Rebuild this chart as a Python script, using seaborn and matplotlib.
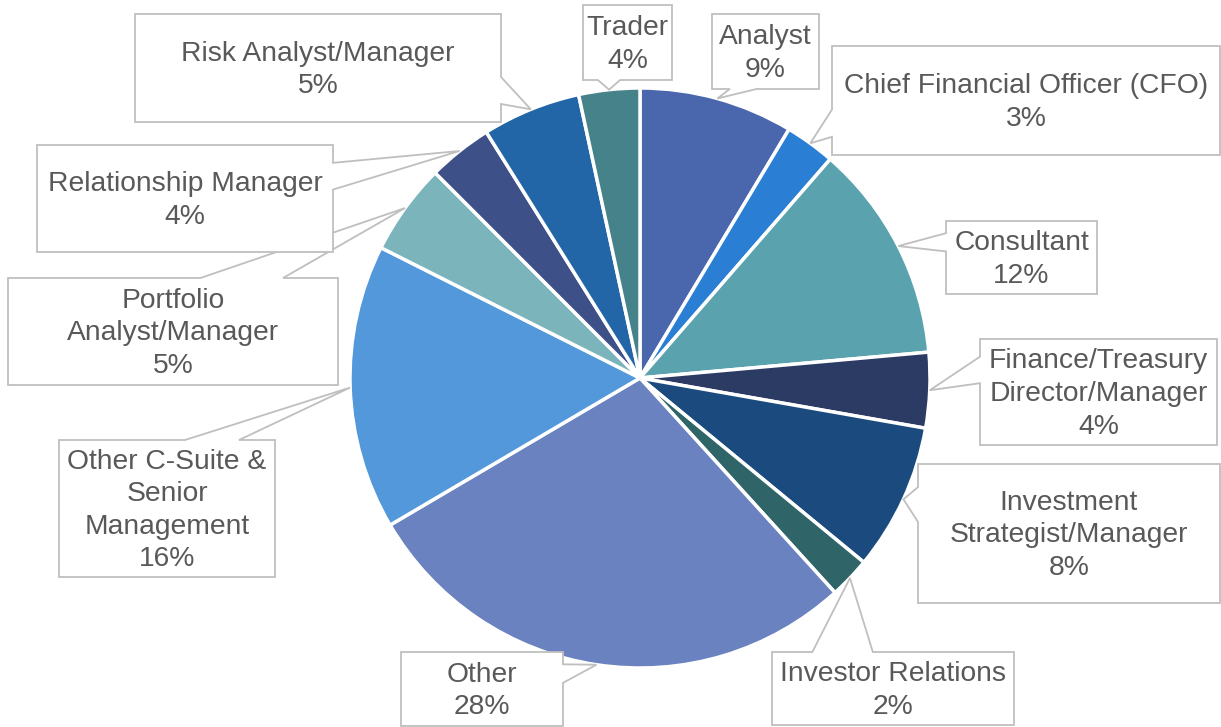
import matplotlib
matplotlib.use('Agg')  # no display available
import matplotlib.pyplot as plt
import seaborn as sns
import numpy as np
from matplotlib.patches import Polygon

# Slices in clockwise order starting from 12 o'clock
roles = [
    'Analyst',
    'Chief Financial Officer (CFO)',
    'Consultant',
    'Finance/Treasury\nDirector/Manager',
    'Investment\nStrategist/Manager',
    'Investor Relations',
    'Other',
    'Other C-Suite &\nSenior\nManagement',
    'Portfolio\nAnalyst/Manager',
    'Relationship Manager',
    'Risk Analyst/Manager',
    'Trader',
]
shares = [8.6, 2.8, 12.2, 4.2, 8.2, 2.3, 28.3, 15.9, 5.1, 3.6, 5.5, 3.4]
pct_labels = ['9%', '3%', '12%', '4%', '8%', '2%', '28%', '16%', '5%', '4%', '5%', '4%']
slice_colors = ['#4A66AC', '#2A7FD5', '#5AA2AE', '#2C3B64', '#1B4A7E', '#2F6468',
                '#6A82BF', '#5398DB', '#7CB4BC', '#3D5088', '#2266A8', '#468289']

# Callout boxes in picture pixels (x0, y0, x1, y1), y measured from top
label_boxes = [
    (712, 14, 819, 89),
    (832, 46, 1220, 155),
    (946, 221, 1097, 294),
    (980, 339, 1217, 445),
    (918, 464, 1220, 603),
    (772, 652, 1014, 725),
    (401, 652, 563, 726),
    (59, 440, 275, 577),
    (8, 278, 338, 385),
    (37, 145, 333, 252),
    (135, 14, 501, 122),
    (583, 5, 672, 80),
]

W, H = 1221, 727
PIE_CENTER = (640, H - 378)
PIE_RADIUS = 290
TEXT_COLOR = '#595959'
BOX_EDGE = '#BFBFBF'
TEXT_DROP = 2  # px, text sits a touch below the box centre


def callout_vertices(box, tip):
    """Rectangle with a wedge pointer, like an Excel data callout (image coords)"""
    x0, y0, x1, y1 = box
    w, h = x1 - x0, y1 - y0
    cx, cy = (x0 + x1) / 2, (y0 + y1) / 2
    dx, dy = tip[0] - cx, tip[1] - cy
    if abs(dx) / (w / 2) > abs(dy) / (h / 2):
        side = 'right' if dx > 0 else 'left'
        f1, f2 = (2 / 12, 5 / 12) if dy < 0 else (7 / 12, 10 / 12)
    else:
        side = 'bottom' if dy > 0 else 'top'
        f1, f2 = (2 / 12, 5 / 12) if dx < 0 else (7 / 12, 10 / 12)

    pts = [(x0, y0)]
    if side == 'top':
        pts += [(x0 + f1 * w, y0), tip, (x0 + f2 * w, y0)]
    pts += [(x1, y0)]
    if side == 'right':
        pts += [(x1, y0 + f1 * h), tip, (x1, y0 + f2 * h)]
    pts += [(x1, y1)]
    if side == 'bottom':
        pts += [(x0 + f2 * w, y1), tip, (x0 + f1 * w, y1)]
    pts += [(x0, y1)]
    if side == 'left':
        pts += [(x0, y0 + f2 * h), tip, (x0, y0 + f1 * h)]
    return [(x, H - y) for x, y in pts]


def main():
    sns.set_theme(style='white')
    plt.rcParams['font.family'] = ['Liberation Sans', 'DejaVu Sans']

    fig = plt.figure(figsize=(W / 100, H / 100), dpi=100)
    ax = fig.add_axes([0, 0, 1, 1])

    palette = sns.color_palette(slice_colors)
    wedges, _ = ax.pie(
        shares,
        colors=palette,
        startangle=90,
        counterclock=False,
        center=PIE_CENTER,
        radius=PIE_RADIUS,
        wedgeprops=dict(edgecolor='white', linewidth=2.5),
    )

    for wedge, role, pct, box in zip(wedges, roles, pct_labels, label_boxes):
        mid = np.deg2rad((wedge.theta1 + wedge.theta2) / 2)
        tip_x = PIE_CENTER[0] + PIE_RADIUS * np.cos(mid)
        tip_y = H - (PIE_CENTER[1] + PIE_RADIUS * np.sin(mid))
        verts = callout_vertices(box, (tip_x, tip_y))
        ax.add_patch(Polygon(verts, closed=True, facecolor='white',
                             edgecolor=BOX_EDGE, linewidth=1.3, zorder=3))
        x0, y0, x1, y1 = box
        ax.text((x0 + x1) / 2, H - (y0 + y1) / 2 - TEXT_DROP, f'{role}\n{pct}',
                ha='center', va='center', fontsize=20.3, color=TEXT_COLOR,
                linespacing=1.33, zorder=4)

    ax.set_xlim(0, W)
    ax.set_ylim(0, H)
    ax.set_aspect('equal')
    ax.axis('off')

    fig.savefig('out.png', dpi=100, facecolor='white')
    plt.close(fig)


if __name__ == "__main__":
    main()
